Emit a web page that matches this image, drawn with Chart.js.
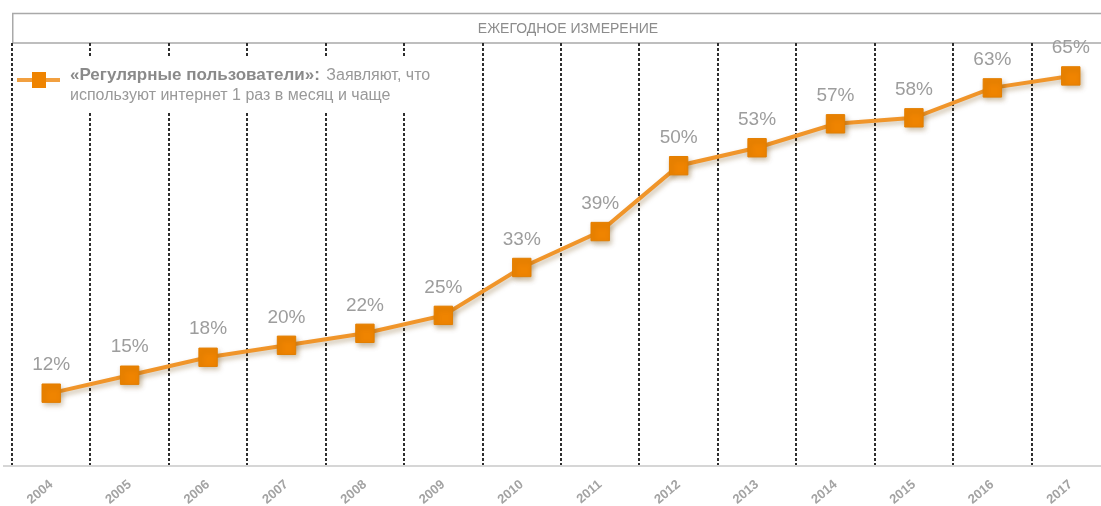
<!DOCTYPE html>
<html><head><meta charset="utf-8">
<script src="https://cdn.jsdelivr.net/npm/chart.js@4.4.1/dist/chart.umd.min.js"></script>
<style>
html,body{margin:0;padding:0;background:#fff;overflow:hidden;width:1101px;height:506px}
#c{position:absolute;left:0;top:0}
</style></head>
<body><canvas id="c" width="1112" height="506"></canvas>
<script>
const years = ['2004','2005','2006','2007','2008','2009','2010','2011','2012','2013','2014','2015','2016','2017'];
const regularUsers = [12,15,18,20,22,25,33,39,50,53,57,58,63,65];
const valueSuffix = '%';
const headerTitle = 'ЕЖЕГОДНОЕ ИЗМЕРЕНИЕ';
const legendBold = '«Регулярные пользователи»:';
const legendRest = ' Заявляют, что';
const legendLine2 = 'используют интернет 1 раз в месяц и чаще';

const decor = {
  id: 'decor',
  beforeDraw(chart) {
    const {ctx, chartArea: a} = chart;
    ctx.save();
    ctx.fillStyle = '#fff';
    ctx.fillRect(0, 0, chart.width, chart.height);
    ctx.strokeStyle = '#a9a9a9';
    ctx.lineWidth = 1.5;
    ctx.beginPath();
    ctx.moveTo(a.left, 13.5); ctx.lineTo(chart.width, 13.5);
    ctx.moveTo(a.left, a.top); ctx.lineTo(chart.width, a.top);
    ctx.moveTo(a.left + 0.75, 13); ctx.lineTo(a.left + 0.75, a.top);
    ctx.stroke();
    ctx.fillStyle = '#8c8c8c';
    ctx.font = '14px "Liberation Sans Narrow", "Liberation Sans", sans-serif';
    ctx.textAlign = 'center';
    ctx.textBaseline = 'middle';
    ctx.fillText(headerTitle, 568, 29);
    ctx.restore();
  },
  beforeDatasetsDraw(chart) {
    const {ctx, chartArea: a} = chart;
    ctx.save();
    ctx.strokeStyle = '#d6d6d6';
    ctx.lineWidth = 2;
    ctx.beginPath();
    ctx.moveTo(3, a.bottom + 1); ctx.lineTo(chart.width, a.bottom + 1);
    ctx.stroke();
    ctx.fillStyle = '#fff';
    ctx.fillRect(a.left + 2, 57, 432, 54);
    ctx.strokeStyle = '#F2A040';
    ctx.lineWidth = 4;
    ctx.beginPath();
    ctx.moveTo(17, 80); ctx.lineTo(60, 80);
    ctx.stroke();
    ctx.fillStyle = '#EF8400';
    ctx.fillRect(32, 72, 14, 16);
    ctx.textAlign = 'left';
    ctx.textBaseline = 'alphabetic';
    ctx.font = 'bold 17px "Liberation Sans", sans-serif';
    ctx.fillStyle = '#8a8a8a';
    ctx.fillText(legendBold, 70, 80);
    const w = ctx.measureText(legendBold).width;
    ctx.font = '16px "Liberation Sans", sans-serif';
    ctx.fillStyle = '#999';
    ctx.fillText(legendRest, 72 + w, 80);
    ctx.fillText(legendLine2, 70, 100);
    ctx.restore();
  },
  afterDatasetsDraw(chart) {
    const {ctx} = chart;
    const meta = chart.getDatasetMeta(0);
    ctx.save();
    ctx.font = '19px "Liberation Sans", sans-serif';
    ctx.fillStyle = '#9d9d9d';
    ctx.textAlign = 'center';
    ctx.textBaseline = 'middle';
    meta.data.forEach((pt, i) => {
      ctx.fillText(chart.data.datasets[0].data[i] + valueSuffix, pt.x, pt.y - 28);
    });
    ctx.restore();
  }
};

const shadow = {
  id: 'shadow',
  beforeDatasetDraw(chart) {
    const ctx = chart.ctx;
    ctx.save();
    ctx.shadowColor = 'rgba(110,70,0,0.35)';
    ctx.shadowBlur = 5;
    ctx.shadowOffsetX = 2;
    ctx.shadowOffsetY = 3;
  },
  afterDatasetDraw(chart) { chart.ctx.restore(); }
};

new Chart(document.getElementById('c'), {
  type: 'line',
  data: {
    labels: years,
    datasets: [{
      label: legendBold + legendRest + ' ' + legendLine2,
      data: regularUsers,
      borderColor: '#F0952A',
      borderWidth: 4,
      pointStyle: 'rect',
      pointRadius: 13,
      pointHoverRadius: 13,
      pointBackgroundColor: '#EF8400',
      pointBorderColor: '#E27E00',
      pointBorderWidth: 1,
      tension: 0,
      clip: false
    }]
  },
  options: {
    responsive: false,
    animation: false,
    layout: {autoPadding: false, padding: {left: 12, right: 2, top: 43, bottom: 0}},
    plugins: {legend: {display: false}, title: {display: false}, tooltip: {enabled: false}},
    scales: {
      x: {
        offset: true,
        grid: {offset: true, color: '#2e2e2e', lineWidth: 2, drawTicks: false},
        border: {display: false, dash: [3, 2]},
        ticks: {
          color: '#a3a3a3',
          font: {family: '"Liberation Sans", sans-serif', size: 13, weight: 'bold'},
          minRotation: 40, maxRotation: 40, padding: 12, autoSkip: false
        },
        afterFit(scale) { scale.height = 41; scale.paddingLeft = 0; scale.paddingRight = 0; }
      },
      y: {display: false, min: 0, max: 70.5}
    }
  },
  plugins: [decor, shadow]
});
</script>
</body></html>
